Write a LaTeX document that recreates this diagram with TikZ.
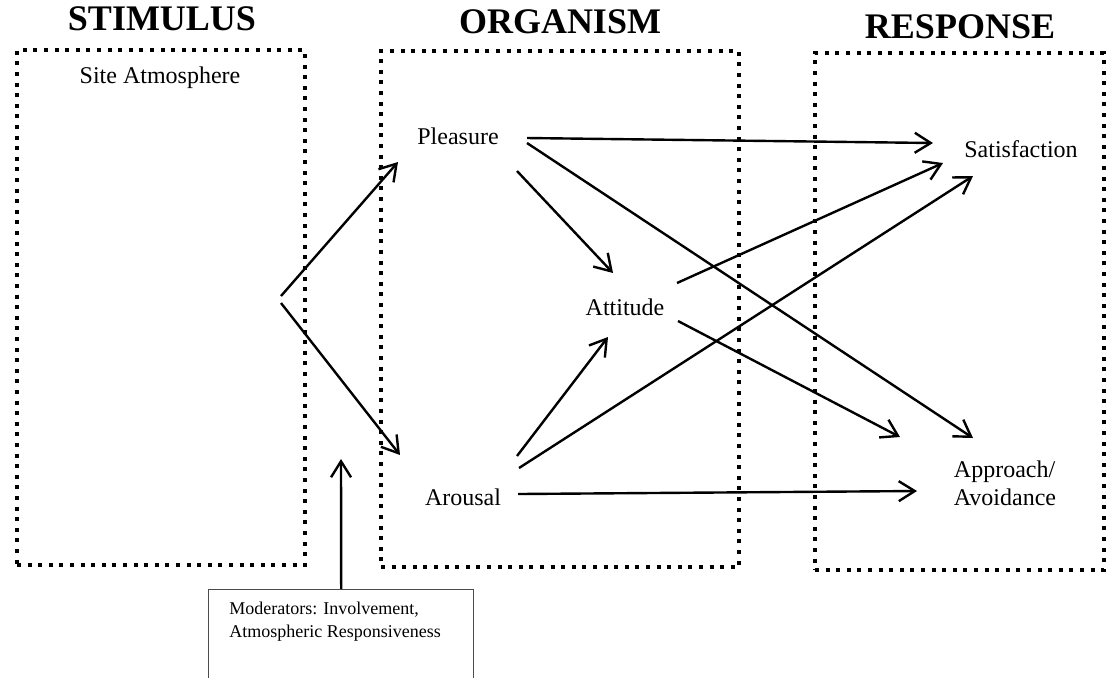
\documentclass[tikz,border=0pt]{standalone}
\usepackage{fontspec}
\setmainfont{Liberation Serif}
\usetikzlibrary{arrows.meta}

\tikzset{
  dotbox/.style={draw,line width=2pt,dash pattern=on 2pt off 3.3pt,inner sep=0pt},
  heading/.style={font=\fontsize{18}{20}\selectfont\bfseries},
  term/.style={font=\fontsize{12}{14}\selectfont,anchor=base},
  link/.style={line width=1.2pt,-{Straight Barb[length=8pt,width=10pt]}}
}

\begin{document}
\begin{tikzpicture}[x=0.5pt,y=-0.5pt]
\useasboundingbox (0,0) rectangle (1106,677);
\clip (0,0) rectangle (1106,677);

% column headings
\node[heading] (stimhead) at (162,19) {STIMULUS};
\node[heading] (orghead) at (560,22) {ORGANISM};
\node[heading] (resphead) at (960,27) {RESPONSE};

% dotted columns
\node[dotbox,minimum width=144pt,minimum height=257.5pt] (stimulus) at (161,307.5) {};
\node[dotbox,minimum width=179pt,minimum height=258pt] (organism) at (560,309) {};
\node[dotbox,minimum width=144.5pt,minimum height=258.5pt] (response) at (959.5,311.5) {};

\node[term] (site) at (160,83) {Site Atmosphere};
\node[term] (pleasure) at (458,144) {Pleasure};
\node[term] (attitude) at (625,315) {Attitude};
\node[term] (arousal) at (463,505) {Arousal};
\node[term] (satisfaction) at (1021,157) {Satisfaction};
\node[term,anchor=center,align=left] (approach) at (1005,483) {Approach/\\Avoidance};

% moderators
\node[draw=black!70,line width=0.7pt,anchor=north west,minimum width=132.5pt,
  minimum height=60pt,inner sep=0pt] (moderators) at (208,589) {};
\node[anchor=north west,inner sep=0pt,align=left,font=\fontsize{9}{11.5}\selectfont]
  (modtext) at (229,602) {Moderators: Involvement,\\Atmospheric Responsiveness};

% arrow ends
\coordinate (stimup) at (281,296);
\coordinate (stimdown) at (281,303);
\coordinate (pleain) at (398,162);
\coordinate (arouin) at (400,455);
\coordinate (modtip) at (341,459);
\coordinate (pleasat) at (527,138);
\coordinate (pleaapp) at (527,143);
\coordinate (pleaatt) at (517,171);
\coordinate (attin1) at (613,273);
\coordinate (attin2) at (608,337);
\coordinate (attsat) at (677,283);
\coordinate (attapp) at (678,321);
\coordinate (arouatt) at (517,456);
\coordinate (arousat) at (519,468);
\coordinate (arouapp) at (518,494);
\coordinate (satin1) at (933,143);
\coordinate (satin2) at (943,163);
\coordinate (satin3) at (973,176);
\coordinate (appin1) at (900,437);
\coordinate (appin2) at (973,438);
\coordinate (appin3) at (917,491);

\draw[link] (stimup) -- (pleain);
\draw[link] (stimdown) -- (arouin);
\draw[link] (moderators.north) -- (modtip);

\draw[link] (pleasat) -- (satin1);
\draw[link] (pleaapp) -- (appin2);
\draw[link] (pleaatt) -- (attin1);
\draw[link] (attsat) -- (satin2);
\draw[link] (attapp) -- (appin1);
\draw[link] (arouatt) -- (attin2);
\draw[link] (arousat) -- (satin3);
\draw[link] (arouapp) -- (appin3);
\end{tikzpicture}
\end{document}
